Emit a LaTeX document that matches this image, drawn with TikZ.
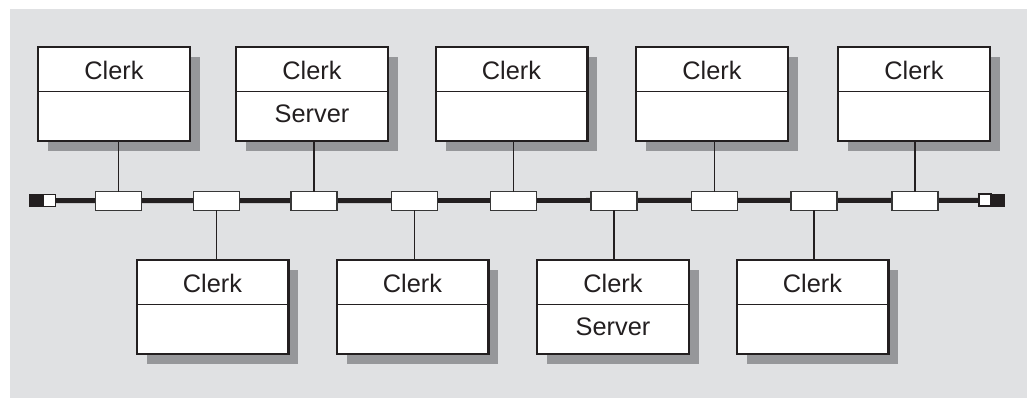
\documentclass[tikz,border=0pt]{standalone}
\usepackage{fontspec}
\setmainfont{Liberation Sans}
\usetikzlibrary{shadows,positioning}
\definecolor{panelgray}{RGB}{224,225,227}
\definecolor{shadowgray}{RGB}{150,151,154}
\definecolor{linecolor}{RGB}{35,31,32}
\definecolor{tapedge}{RGB}{55,55,55}

\begin{document}
\begin{tikzpicture}[x=0.75pt, y=-0.75pt,
  clerkbox/.style={draw=linecolor, fill=white, line width=1.7pt, inner sep=0pt, outer sep=0pt,
    minimum width=113.8pt, minimum height=70.3pt,
    drop shadow={shadow xshift=7.5pt, shadow yshift=-7.5pt, fill=shadowgray, opacity=1}},
  clerklabel/.style={font=\fontsize{19}{22}\selectfont, text=linecolor, inner sep=0pt},
  divider/.style={draw=linecolor, line width=0.8pt},
  connector/.style={draw=linecolor, line width=0.8pt},
  tapbox/.style={draw=tapedge, fill=white, line width=0.9pt, inner sep=0pt, outer sep=0pt,
    minimum width=34.4pt, minimum height=14.1pt},
  bus/.style={draw=linecolor, line width=3.7pt},
  termblack/.style={fill=linecolor, inner sep=0pt, outer sep=0pt, minimum size=10pt},
  termwhite/.style={draw=linecolor, fill=white, line width=1.2pt, inner sep=0pt, outer sep=0pt, minimum size=9pt}]

  % Canvas and grey panel
  \useasboundingbox (0,0) rectangle (1027,398);
  \fill[panelgray] (10,9) rectangle (1027,398);

  % Bus terminators
  \node[termblack] (termLb) at (36,200.7) {};
  \node[termwhite, right=0.6pt of termLb] (termL) {};
  \node[termblack] (termRb) at (998.5,200.3) {};
  \node[termwhite, left=0.6pt of termRb] (termR) {};

  % The bus itself
  \draw[bus] (termL.east) -- (termR.west);

  % Taps on the bus
  \foreach \i/\x in {1/118.5,2/216.5,3/314,4/414.5,5/513.5,6/614,7/714.5,8/814,9/915}
    \node[tapbox] (tap\i) at (\x,201) {};

  % Clerk boxes above and below the bus
  \foreach \n/\x/\y in {top1/114/94, top2/312/94, top3/511.5/94, top4/712/94, top5/914/94,
                        bot1/212.5/307, bot2/412.5/307, bot3/613/307, bot4/812.5/307} {
    \node[clerkbox] (\n) at (\x,\y) {};
    \draw[divider] ([yshift=-33.5pt]\n.north west) -- ([yshift=-33.5pt]\n.north east);
    \node[clerklabel] (\n-a) at ([yshift=-17.6pt]\n.north) {Clerk};
  }

  % Second compartments with text
  \node[clerklabel] (top2-b) at ([yshift=20.6pt]top2.south) {Server};
  \node[clerklabel] (bot3-b) at ([yshift=20.6pt]bot3.south) {Server};

  % Drops from boxes to taps
  \foreach \n/\t in {top1/1, top2/3, top3/5, top4/7, top5/9}
    \draw[connector] (tap\t.north) -- (tap\t.north |- \n.south);
  \foreach \n/\t in {bot1/2, bot2/4, bot3/6, bot4/8}
    \draw[connector] (tap\t.south) -- (tap\t.south |- \n.north);

\end{tikzpicture}
\end{document}
